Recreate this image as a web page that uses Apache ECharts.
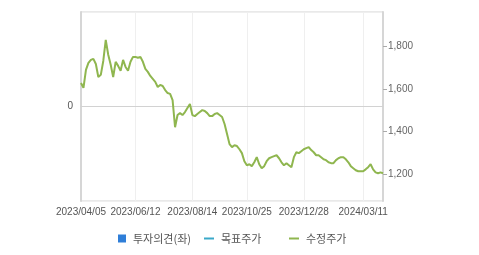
<!DOCTYPE html>
<html><head><meta charset="utf-8">
<script src="https://cdn.jsdelivr.net/npm/echarts@6/dist/echarts.min.js"></script>
<style>html,body{margin:0;padding:0;background:#fff}#c{width:479px;height:255px}</style>
</head><body><div id="c"></div>
<script>
const dates = [
'2023/04/05','2023/04/08','2023/04/11','2023/04/14','2023/04/17','2023/04/20','2023/04/23','2023/04/26','2023/04/29','2023/05/02',
'2023/05/05','2023/05/08','2023/05/11','2023/05/14','2023/05/17','2023/05/20','2023/05/23','2023/05/26','2023/05/29','2023/06/01',
'2023/06/04','2023/06/08','2023/06/12','2023/06/15','2023/06/18','2023/06/21','2023/06/23','2023/06/26','2023/06/29','2023/07/01',
'2023/07/04','2023/07/07','2023/07/10','2023/07/12','2023/07/15','2023/07/18','2023/07/21','2023/07/23','2023/07/26','2023/07/29',
'2023/07/31','2023/08/03','2023/08/06','2023/08/09','2023/08/11','2023/08/14','2023/08/17','2023/08/20','2023/08/24','2023/08/27',
'2023/08/30','2023/09/02','2023/09/06','2023/09/09','2023/09/12','2023/09/15','2023/09/19','2023/09/22','2023/09/25','2023/09/28',
'2023/10/02','2023/10/05','2023/10/08','2023/10/11','2023/10/15','2023/10/18','2023/10/21','2023/10/25','2023/10/28','2023/10/31',
'2023/11/03','2023/11/05','2023/11/08','2023/11/11','2023/11/14','2023/11/16','2023/11/19','2023/11/22','2023/11/25','2023/11/27',
'2023/11/30','2023/12/03','2023/12/06','2023/12/08','2023/12/11','2023/12/14','2023/12/17','2023/12/19','2023/12/22','2023/12/25',
'2023/12/28','2023/12/31','2024/01/03','2024/01/06','2024/01/09','2024/01/12','2024/01/15','2024/01/18','2024/01/21','2024/01/24',
'2024/01/27','2024/01/30','2024/02/02','2024/02/05','2024/02/08','2024/02/11','2024/02/14','2024/02/17','2024/02/20','2024/02/23',
'2024/02/26','2024/02/29','2024/03/03','2024/03/07','2024/03/11','2024/03/14','2024/03/17','2024/03/20','2024/03/23','2024/03/26',
'2024/03/29','2024/04/01','2024/04/04'
];
const adjPrice = [
1627,1604,1688,1721,1735,1740,1716,1655,1665,1730,
1829,1759,1712,1655,1726,1707,1684,1735,1702,1684,
1726,1749,1749,1745,1749,1726,1693,1679,1660,1646,
1632,1608,1618,1613,1594,1580,1576,1547,1420,1477,
1486,1477,1491,1510,1529,1477,1472,1482,1491,1500,
1496,1486,1472,1472,1482,1486,1477,1468,1435,1388,
1341,1327,1336,1332,1317,1299,1261,1242,1247,1238,
1256,1280,1247,1228,1238,1261,1275,1280,1285,1289,
1275,1256,1242,1252,1242,1233,1280,1303,1299,1308,
1317,1322,1327,1313,1303,1289,1289,1280,1270,1266,
1256,1252,1252,1266,1275,1280,1280,1270,1256,1238,
1228,1219,1214,1214,1214,1223,1233,1247,1223,1209,
1205,1209,1205
];
const opinion = [];
const targetPrice = [];
const xLabelDates = ['2023/04/05','2023/06/12','2023/08/14','2023/10/25','2023/12/28','2024/03/11'];
const rightTicks = [1200,1400,1600,1800];
const leftTicks = [0];

const labelIdx = new Set(xLabelDates.map(d => dates.indexOf(d)));
const showAt = (i) => labelIdx.has(i);
const font = 'Liberation Sans, Arial, sans-serif';
const kfont = 'Noto Sans CJK KR, sans-serif';
const chart = echarts.init(document.getElementById('c'), null, {renderer:'canvas'});
const legendBase = {
  top: 228, itemWidth: 10, itemHeight: 2, icon: 'rect', selectedMode: false,
  textStyle: {color:'#555', fontSize: 11, fontFamily: kfont, padding:[0,0,0,2]}
};
chart.setOption({
  animation: false,
  grid: {left: 81, right: 96, top: 12, bottom: 54, show: true, borderColor: '#d2d2d2', borderWidth: 1, backgroundColor: 'transparent'},
  legend: [
    Object.assign({}, legendBase, {data:['투자의견(좌)'], left: 113, itemWidth: 8, itemHeight: 8}),
    Object.assign({}, legendBase, {data:['목표주가'], left: 199}),
    Object.assign({}, legendBase, {data:['수정주가'], left: 284})
  ],
  xAxis: {
    type: 'category', data: dates, boundaryGap: false,
    axisLine: {lineStyle: {color: '#d2d2d2', width: 1}},
    axisTick: {show: false},
    axisLabel: {interval: (i) => showAt(i), color: '#555', fontSize: 10, fontFamily: font, margin: 6, showMinLabel: true, hideOverlap: false},
    splitLine: {show: true, interval: (i) => showAt(i), lineStyle: {color: '#efefef'}}
  },
  yAxis: [
    {
      type: 'value', position: 'left', min: -1, max: 1, interval: 1,
      axisLine: {show: true, lineStyle: {color: '#d6d6d6', width: 2}},
      axisTick: {show: false},
      axisLabel: {color: '#555', fontSize: 10, fontFamily: font, margin: 8,
        formatter: (v) => leftTicks.includes(v) ? String(v) : ''},
      splitLine: {show: true, lineStyle: {color: '#efefef'}}
    },
    {
      type: 'value', position: 'right', min: 1075, max: 1959,
      axisLine: {show: true, lineStyle: {color: '#d6d6d6', width: 2}},
      axisTick: {show: true, length: 4, lineStyle: {color: '#aaa'}, customValues: rightTicks},
      axisLabel: {color: '#666', fontSize: 10, fontFamily: font, margin: 5, customValues: rightTicks,
        formatter: (v) => v.toLocaleString('en-US')},
      splitLine: {show: false}
    }
  ],
  series: [
    {name: '투자의견(좌)', type: 'bar', yAxisIndex: 0, data: opinion, itemStyle: {color: '#2f7ed8'}},
    {name: '목표주가', type: 'line', yAxisIndex: 1, data: targetPrice, itemStyle: {color: '#3aa9c9'}, lineStyle: {color: '#3aa9c9'}, symbol: 'none'},
    {name: '수정주가', type: 'line', yAxisIndex: 1, data: adjPrice, itemStyle: {color: '#8fb64f'},
      lineStyle: {color: '#8fb64f', width: 2}, symbol: 'none', showSymbol: false}
  ]
});
</script></body></html>
